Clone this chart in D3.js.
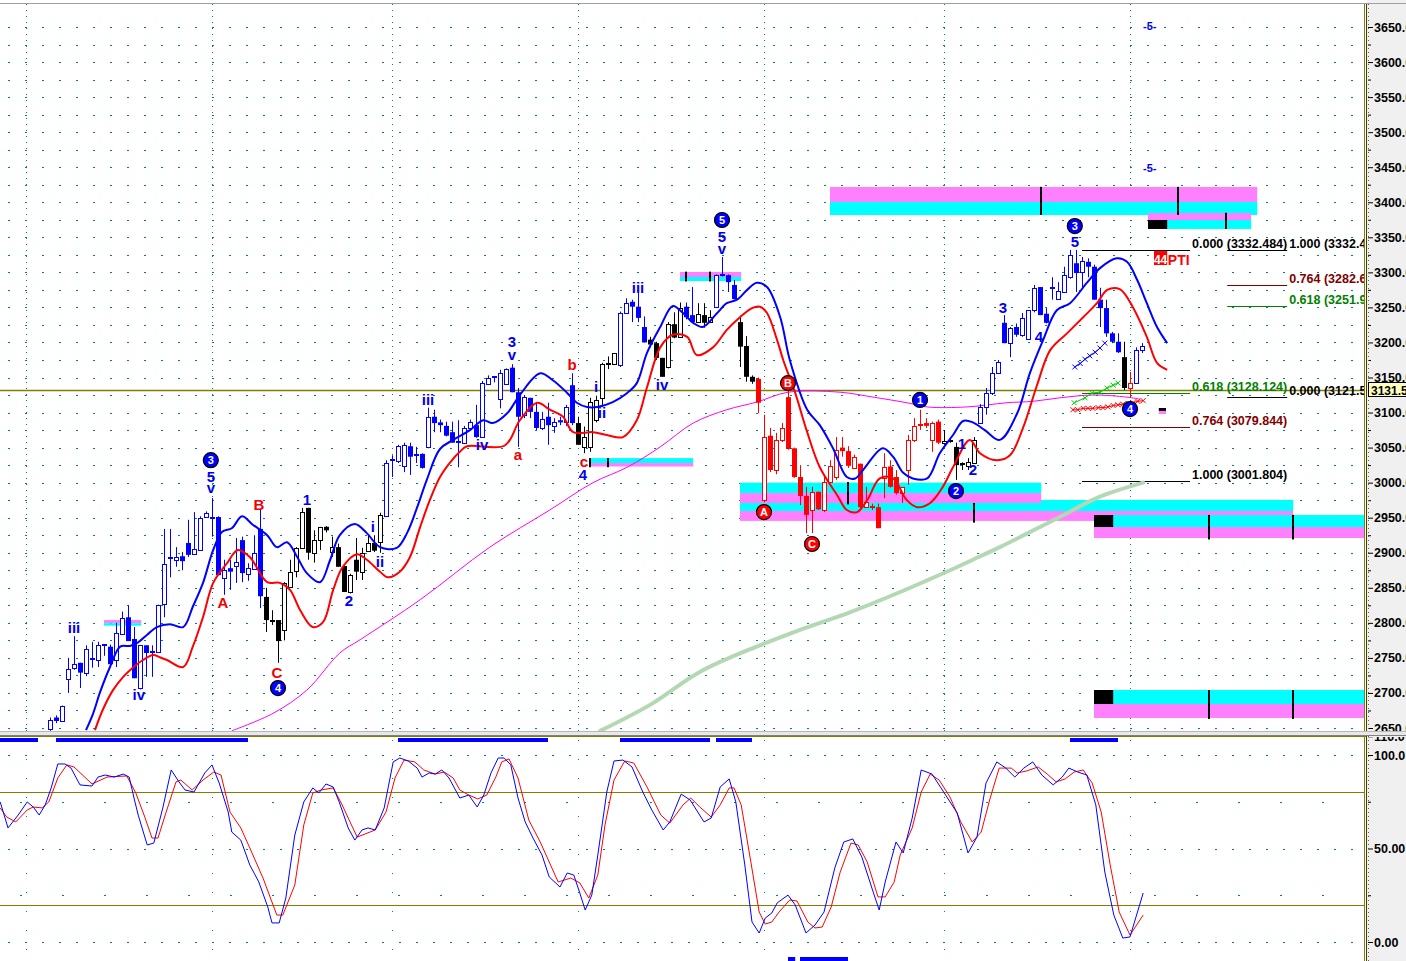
<!DOCTYPE html>
<html><head><meta charset="utf-8"><title>chart</title>
<script src="https://cdn.jsdelivr.net/npm/d3@7/dist/d3.min.js"></script>
<style>html,body{margin:0;padding:0;background:#fff;overflow:hidden}svg{display:block}</style>
</head><body>
<svg id="chart" width="1406" height="961"></svg>
<script>
// ---------------- DATA ----------------
const openP=[2648,2665,2659,2720,2735,2743,2729,2751,2746,2767,
2766,2746,2784,2808,2777,2707,2768,2758,2758,2827,
2893,2890,2895,2914,2898,2905,2951,2950,2951,2865,
2878,2882,2918,2870,2877,2934,2837,2804,2804,2790,
2851,2874,2907,2964,2900,2918,2937,2901,2908,2881,
2844,2890,2873,2903,2914,2915,2952,3031,3031,3024,
3052,3039,3041,3051,3094,3086,3081,3072,3058,3057,
3079,3082,3065,3142,3150,3119,3141,3164,3129,3097,
3121,3101,3078,3094,3081,3089,3086,3139,3085,3051,
3051,3089,3121,3169,3169,3168,3242,3258,3251,3222,
3204,3199,3178,3165,3226,3208,3251,3239,3229,3239,
3229,3251,3296,3296,3282,3229,3195,3151,3148,2975,
3067,3018,3061,3122,3049,3008,2981,2961,2987,2961,
3001,3008,3050,3045,3022,3027,2965,2965,2965,3007,
3023,3008,2985,3018,3061,3082,3085,3061,3087,3057,
3059,3051,3027,3025,3028,3085,3108,3128,3157,3228,
3199,3222,3211,3205,3246,3279,3241,3275,3262,3272,
3293,3313,3301,3315,3308,3261,3249,3213,3201,3179,
3135,3142,3189];
const highP=[2665,2668,2682,2750,2781,2743,2768,2773,2773,2769,
2769,2800,2816,2825,2794,2768,2768,2768,2826,2934,
2934,2908,2901,2947,2958,2952,2959,2978,2952,2890,
2890,2921,2923,2885,2925,2961,2850,2818,2804,2858,
2890,2908,2964,2964,2932,2937,2938,2923,2913,2881,
2870,2921,2907,2925,2925,2957,3032,3039,3054,3057,
3057,3051,3042,3107,3104,3090,3087,3087,3089,3081,
3090,3111,3145,3153,3152,3161,3163,3169,3135,3125,
3121,3115,3101,3114,3092,3094,3111,3156,3094,3080,
3121,3124,3171,3180,3185,3244,3263,3261,3272,3237,
3208,3201,3178,3229,3243,3257,3257,3279,3256,3256,
3246,3297,3322,3297,3289,3237,3209,3153,3150,3097,
3078,3071,3085,3135,3050,3025,2994,2994,2987,3008,
3032,3065,3065,3052,3040,3027,2994,2970,2970,3042,
3032,3018,2994,3068,3092,3104,3092,3087,3090,3075,
3062,3057,3029,3035,3065,3112,3135,3165,3175,3239,
3222,3227,3242,3246,3282,3279,3249,3293,3286,3308,
3332,3332,3322,3320,3311,3278,3261,3215,3213,3201,
3158,3193,3199];
const lowP=[2646,2657,2659,2700,2733,2707,2724,2736,2737,2753,
2737,2737,2784,2774,2721,2705,2723,2723,2757,2808,
2865,2880,2875,2894,2898,2903,2951,2923,2868,2840,
2847,2857,2858,2860,2877,2821,2787,2797,2743,2775,
2851,2865,2907,2890,2886,2904,2929,2894,2880,2844,
2842,2861,2861,2903,2901,2900,2952,3008,3028,3015,
3011,3028,3020,3049,3072,3072,3066,3057,3022,3055,
3077,3064,3064,3142,3143,3106,3140,3129,3051,3092,
3092,3075,3075,3054,3071,3082,3081,3082,3054,3042,
3044,3086,3108,3162,3168,3165,3242,3229,3229,3200,
3193,3175,3151,3163,3206,3207,3233,3228,3229,3221,
3228,3249,3294,3272,3261,3165,3144,3141,3099,2972,
3015,3012,3058,3047,3007,2968,2928,2928,2961,2958,
3000,3004,3037,3021,3020,2960,2964,2961,2935,2978,
2993,2983,2971,2997,3058,3075,3078,3044,3055,3054,
3057,3004,3018,3018,3027,3085,3097,3125,3155,3199,
3179,3208,3208,3204,3243,3239,3227,3261,3261,3271,
3291,3272,3278,3293,3261,3222,3208,3199,3185,3132,
3121,3142,3185];
const closeP=[2661,2660,2681,2734,2741,2729,2763,2749,2768,2768,
2741,2785,2807,2774,2721,2768,2757,2758,2825,2884,
2892,2894,2888,2897,2905,2950,2957,2950,2868,2876,
2873,2887,2871,2878,2900,2838,2804,2803,2774,2857,
2873,2907,2958,2900,2918,2937,2932,2908,2880,2844,
2868,2873,2900,2914,2903,2954,3028,3032,3052,3054,
3037,3039,3021,3094,3085,3082,3067,3057,3058,3078,
3087,3065,3142,3150,3151,3156,3162,3129,3094,3122,
3101,3078,3091,3082,3087,3086,3108,3085,3054,3065,
3115,3118,3169,3169,3185,3242,3256,3251,3235,3200,
3197,3178,3151,3226,3207,3249,3236,3229,3241,3228,
3236,3296,3296,3286,3262,3194,3151,3144,3114,3065,
3018,3061,3078,3048,3008,2981,2954,2986,2962,3001,
3024,3046,3045,3024,3037,2965,2972,2965,2935,3023,
2994,2985,2994,3061,3081,3082,3081,3085,3057,3060,
3060,3025,3026,3030,3061,3108,3128,3157,3172,3199,
3221,3211,3235,3246,3278,3239,3228,3277,3273,3296,
3325,3299,3316,3308,3261,3249,3213,3201,3186,3135,
3142,3189,3195];
// candle colour per wave segment: b=blue, k=black, r=red
const candleColorRuns=[["b",36],["k",20],["b",32],["k",7],["b",5],["k",6],["b",2],["k",3],["b",4],["k",3],["r",31],["k",6],["b",24],["k",1],["r",1],["b",2]];

// moving averages [candle index, price]
const maBlue=[[6,2647],[7.2,2671],[8.3,2700],[10,2737],[11.7,2766],[13.3,2767],[14.5,2771],[16.2,2783],[17.8,2794],[20,2798],[22.2,2794],[23.8,2823],[25.5,2857],[27.2,2904],[28.7,2930],[30.3,2935],[32,2952],[33.8,2940],[36.2,2925],[37.8,2908],[39.5,2915],[41.2,2894],[42.8,2871],[45,2858],[46.7,2890],[48.3,2925],[50.8,2941],[52.8,2928],[55,2908],[57.8,2907],[59.5,2928],[61.2,2965],[62.8,3004],[65,3048],[67.2,3061],[70,3075],[72.2,3089],[73.8,3085],[76.2,3099],[78.3,3125],[81.7,3156],[83.8,3146],[86.2,3128],[87.8,3114],[89.5,3108],[91.2,3108],[93.8,3115],[96.2,3128],[97.8,3142],[99.5,3185],[101.7,3222],[103.8,3252],[105.5,3242],[107.2,3228],[108.8,3222],[111.2,3242],[112.8,3256],[114.5,3261],[116.2,3275],[117.8,3285],[119.5,3279],[121.7,3236],[123.3,3175],[126.2,3104],[128.3,3082],[130.5,3049],[132.8,3008],[134.2,3006],[135.5,3018],[138.8,3049],[140.5,3037],[142.2,3014],[143.8,3006],[146.2,3006],[148.3,3042],[150.5,3068],[152.2,3088],[153.8,3086],[155.8,3075],[158.3,3061],[161.2,3099],[163.3,3156],[165.5,3203],[167.8,3246],[170,3256],[172.8,3285],[175,3306],[177.8,3320],[179.5,3315],[181.2,3289],[182.8,3256],[184.5,3222],[186.2,3199]];
const maRed=[[7.5,2647],[8.8,2676],[10.5,2704],[12.2,2723],[13.8,2736],[15.5,2747],[17.2,2754],[18.3,2751],[19.5,2747],[22.2,2737],[23.8,2766],[25.5,2808],[27.2,2857],[29.5,2885],[31.3,2904],[33.3,2894],[36.2,2858],[38.3,2857],[40,2847],[41.7,2818],[43.8,2794],[45.5,2801],[47.2,2847],[48.8,2880],[51.2,2898],[52.8,2890],[55,2873],[56.3,2865],[58.3,2873],[60,2894],[61.7,2937],[63.3,2975],[65,3008],[66.7,3029],[68.3,3044],[69.5,3052],[75.8,3053],[78.3,3089],[81.2,3114],[83.3,3104],[85.5,3094],[87.2,3072],[90.5,3072],[92.8,3068],[95.5,3065],[97.8,3089],[99.5,3136],[101.7,3193],[103.8,3211],[106.2,3208],[107.8,3182],[110.5,3193],[112.8,3218],[115,3236],[117,3249],[118.3,3251],[119.5,3242],[121.2,3203],[122.2,3175],[124.2,3128],[126.2,3072],[128.3,3022],[131.2,2982],[132.8,2961],[134.5,2958],[136.2,2975],[138.3,3006],[140.5,3006],[142.8,2975],[144.5,2965],[146.7,2971],[148.8,2994],[150.5,3022],[153.3,3061],[155,3042],[157.8,3032],[160,3039],[162.2,3079],[164.5,3139],[166.7,3189],[169.5,3213],[172.2,3236],[174.5,3256],[176.2,3275],[178.3,3276],[180.5,3250],[182.8,3208],[184.5,3171],[186.2,3161]];
const maMagenta=[[30.3,2646],[37.2,2671],[42.8,2704],[48.3,2757],[51.7,2776],[61.7,2833],[73.3,2908],[83.3,2961],[90.5,3000],[96.2,3022],[101.7,3051],[107.2,3085],[112.8,3104],[117.8,3115],[123,3129],[131.7,3129],[137.2,3122],[142.8,3114],[146.2,3108],[152.8,3108],[159.5,3114],[163.8,3116],[168.3,3121],[173.8,3125],[179.5,3122],[181.7,3119]];
const maGreen=[[91.7,2646],[100,2683],[108.3,2730],[118.3,2768],[125,2790],[133.3,2815],[141.7,2844],[150,2875],[153.8,2890],[158.3,2908],[168.3,2951],[175,2980],[182.2,3000]];

// stochastic [candle index, value]
const stochK=[[-8.3,74.9],[-7,61],[-5.3,67.9],[-3.8,74.9],[-2.8,72.2],[-1.8,67.9],[-0.8,73.3],[0.2,82.4],[1.3,95.2],[2.5,95.2],[3.5,93],[5,84],[7,83.4],[8,88.2],[9.2,89.3],[10.7,88.2],[12.2,89.8],[13.2,88.2],[14,77],[14.7,67.9],[16.2,51.9],[17.3,52.9],[18.8,71.7],[20.2,92],[21.5,85.6],[22.5,81.3],[24,80.2],[25.8,90.4],[27,94.7],[28.2,85],[29.7,69.5],[30.3,58.8],[31.8,54.5],[33.3,41.2],[34.8,32.1],[36.3,18.7],[37,10.2],[38.2,10.2],[39.3,23.5],[40.8,57.2],[42.3,74.9],[43.8,82.4],[44.8,79.7],[46,84.5],[47.2,82.9],[48.2,74.9],[49.7,61],[50.8,54.5],[52,59.9],[53,61],[54.2,59.9],[55.7,71.7],[57.2,96.3],[58.3,98.4],[59.7,96.8],[61.2,93],[62,88.2],[63.2,90.4],[64.2,89.8],[65.3,92],[66.5,87.7],[68.3,77],[69.8,78.6],[71.2,72.2],[72.3,78.6],[73.5,90.4],[74.7,98.4],[75.7,98.4],[76.8,94.7],[78,77],[79.2,64.2],[80.5,55.6],[82,46.5],[83.2,34.8],[85,29.4],[86.2,36.9],[87.3,35.8],[88.3,26.2],[89.2,17.1],[90.3,25.1],[91.3,46.5],[92.8,80.2],[94,96.8],[95.5,97.3],[97,93.6],[98.8,80.2],[100.3,70.6],[102.2,59.9],[103.3,64.2],[105.2,79.1],[106.7,75.9],[109,64.2],[110.2,66.3],[111.7,82.9],[113.2,87.2],[114.3,74.9],[115.8,41.2],[117,10.7],[118.2,4.8],[119.2,12.8],[120.3,15.5],[121.2,20.9],[123,25.1],[124.2,19.8],[126,4.8],[127.5,9.1],[129,16],[130.8,39.6],[132.3,53.5],[133.8,55.1],[135.3,45.5],[137.2,26.7],[138.2,17.1],[139.2,32.1],[141,53.5],[142.2,47.6],[143.7,66.3],[145.2,92],[147,89.8],[148.5,82.4],[151.2,69],[153,47.6],[154.5,56.1],[156,85],[157.8,96.3],[159.3,93],[160.8,88.2],[162.3,93],[163.8,96.3],[165.3,89.3],[167.2,84],[168.7,88.2],[169.8,93],[171.3,90.9],[172.8,89.3],[174.3,73.3],[175.8,37.4],[177.3,14.4],[178.8,2.1],[180,2.7],[182.2,26.2]];
const stochD=[[-8.3,71.7],[-7.2,66.8],[-5.7,64.2],[-3.8,70.6],[-2.8,72.2],[-1.3,71.7],[-0.2,74.9],[1.3,87.7],[2.8,94.7],[4,93.6],[7,84.5],[9.5,88.2],[12.8,88.8],[14.3,79.7],[15.8,66.8],[17,55.6],[18,55.6],[19.2,67.9],[21,85.6],[21.8,86.6],[23.7,81.3],[25.5,86.6],[27.3,90.9],[28.5,89.3],[30,69.5],[31.8,61],[33.3,50.3],[35.5,34.2],[37.8,14.4],[38.8,14.4],[40.8,30.5],[42.3,62.6],[43.8,79.7],[45.2,81.3],[47.2,82.4],[48.7,73.3],[49.7,66.3],[51.2,56.1],[54.2,59.9],[56,69.5],[57.5,87.7],[59,97.3],[60.8,96.3],[62.3,92],[64.2,89.8],[65.7,90.9],[67.2,87.7],[68.3,81.3],[69.8,78.6],[71.3,76.5],[72.8,78.6],[74.3,88.2],[75.3,96.3],[76.5,97.9],[78,87.7],[79.8,65.2],[81.7,53.5],[84.7,32.1],[86.8,34.2],[88.3,31.6],[89.8,23.5],[91.3,35.8],[92.5,62.6],[94,86.6],[95.8,96.8],[97.3,95.7],[99.5,82.9],[101.8,67.9],[103.3,63.6],[105.5,73.3],[106.8,77],[108.3,72.2],[110.2,66.8],[111.7,73.3],[113.2,82.4],[114,82.4],[115.2,73.3],[116.7,44.9],[118.2,16],[119.2,9.6],[120.3,10.7],[121.5,16],[123.3,22.5],[124.5,21.9],[126.3,10.7],[127.5,7.5],[128.7,8],[130.2,18.7],[131.7,37.4],[133.5,52.9],[134.7,51.9],[136.2,42.8],[138,24.1],[139.2,24.1],[140.7,32.1],[141.7,46.5],[143.7,61],[145.2,80.2],[146.7,89.8],[148.2,86.6],[150,77.5],[151.8,64.2],[153.7,53.5],[155.2,58.8],[156.7,77],[158.2,93],[160.2,93],[161.2,90.4],[162.7,91.4],[164.7,93.6],[166.2,89.8],[167.7,85.6],[169.2,87.2],[170.7,90.9],[172.2,92],[173.7,85],[175.2,69.5],[176.7,41.2],[178.2,16],[180,3.7],[182.2,14.4]];

// signal bars [from index, to index]
const signalTop=[[-8.4,-2],[1,33],[58,83],[95,110],[111,117],[170,178]];
const signalBottom=[[123,124.2],[125,133]];

// price zones [x0 idx, x1 idx, top, middle, bottom, band colours]
const zones=[[9,15.2,2804,2799.5,2796,"pc"],[90,107.2,3035,3028,3023,"cp"],[105,115.2,3300.5,3293.4,3287.7,"pc"],[130,201.2,3421.8,3400.4,3381.8,"pc"],[183,200.2,3384.6,3374.7,3361.9,"pc"],[115,207.2,2975.3,2959.6,2945.4,"cp"],[115,165.2,3000,2985.2,2971,"cp"],[174,219,2953.8,2936.7,2921,"cp"],[174,219,2704.2,2684.2,2664.3,"cp"],[184.8,186,3106.5,3102.3,3098,"kp"]];
const zoneBlocks=[[183,186.2,3374.7,3361.9],[174,177.2,2953.8,2936.7],[174,177.2,2704.2,2684.2]];
const zoneMarks=[[90,3035,3022],[93,3035,3022],[106,3301,3287],[110,3301,3287],[165.2,3422,3382],[188,3422,3382],[196,3385,3362],[133,3001,2969],[154,2971,2943],[193.2,2954,2919],[207.2,2954,2919],[193.2,2704,2663],[207.2,2704,2663]];

// fibonacci levels [x0 idx, x1 idx, price, label, colour]
const fibLevels=[[172,190,3332.484,"0.000 (3332.484)","k"],[172,190,3128.124,"0.618 (3128.124)","g"],[172,190,3079.844,"0.764 (3079.844)","m"],[172,190,3001.804,"1.000 (3001.804)","k"],
[196.2,206.2,3332.4,"1.000 (3332.4","k"],[196.2,206.2,3282.6,"0.764 (3282.6","m"],[196.2,206.2,3251.9,"0.618 (3251.9","g"],[196.2,206.2,3121.5,"0.000 (3121.5","k"]];

// x-marker chains
const crossBlue=[[170.8,3165],[171.7,3170],[172.5,3176],[173.3,3181],[174.2,3186],[175,3192],[175.8,3199]];
const crossGreen=[[170.7,3114],[172.5,3121],[173.7,3128],[175,3129],[176.2,3135],[177.2,3139],[178,3142]];
const crossRed=[[170.5,3104],[171.3,3104],[172.2,3106],[173,3106],[173.8,3106],[174.7,3107],[175.5,3107],[176.3,3108],[177.2,3110],[178,3111],[178.8,3112],[179.7,3113],[180.5,3114],[181.3,3116],[182.2,3117]];

// wave labels [text, idx, baseline price, colour]
const waveLabels=[["5",26.8,3001,"b"],["v",26.8,2985,"b"],["iii",4,2785.5,"b"],["iv",14.8,2690,"b"],["A",28.8,2821,"r"],["B",34.8,2961,"r"],["C",37.8,2721,"r"],["1",42.8,2968,"b"],["2",49.8,2824,"b"],["i",53.8,2929.6,"b"],["ii",55,2879.7,"b"],["iii",63,3110.8,"b"],["iv",72,3046.6,"b"],["3",77,3193.5,"b"],["v",77,3175,"b"],["a",78,3032.3,"r"],["b",87,3160.7,"r"],["c",89,3022.3,"r"],["4",88.8,3003.8,"b"],["i",91,3129.3,"b"],["ii",92,3092,"b"],["iii",98,3270.5,"b"],["iv",102,3132.2,"b"],["5",112,3343.3,"b"],["v",112,3326,"b"],["1",152,3048,"b"],["2",153.8,3011,"b"],["3",158.8,3242,"b"],["4",164.8,3200.6,"b"],["5",170.8,3336,"b"]];
const waveCircles=[["3",26.8,3032,"b"],["4",38,2707,"b"],["5",112,3374.7,"b"],["A",119,2958,"r"],["B",123,3142,"r"],["C",127,2912.5,"r"],["1",145,3118,"b"],["2",151,2988,"b"],["3",170.8,3366,"b"],["4",180,3105,"b"]];
const gridIdx=[-4,27,57,88,119,149,180];
const priceTicks=d3.range(2650,3651,50);
const lastPrice=3131.5;

// ---------------- DRAWING ----------------
const FONT='"Liberation Sans", Arial, Helvetica, sans-serif';
const COL={b:"#0000ff",k:"#000000",r:"#ff0000"};
const LCOL={b:"#0000f0",r:"#f00000"};
const BC={p:"#ff80ff",c:"#00ffff",k:"#000000"};
const FC={k:"#000000",g:"#008000",m:"#800000"};
const candleColor=[];
candleColorRuns.forEach(([c,n])=>{for(let k=0;k<n;k++)candleColor.push(c);});

const x=d3.scaleLinear().domain([0,182]).range([50,1142]);
const y=d3.scaleLinear().domain([2650,3650]).range([728,27]);
const ys=d3.scaleLinear().domain([0,100]).range([942,755]);
const px=v=>Math.round(v)+0.5;

const svg=d3.select("#chart");
svg.append("rect").attr("width",1406).attr("height",961).attr("fill","#fff");
svg.append("rect").attr("x",1367).attr("y",0).attr("width",39).attr("height",961).attr("fill","#f0f0f0");
const defs=svg.append("defs");
function clip(id,x0,y0,w,h){defs.append("clipPath").attr("id",id).append("rect").attr("x",x0).attr("y",y0).attr("width",w).attr("height",h);}
clip("cm",0,4,1364,727);clip("cl",0,737,1364,224);clip("ca",1367,4,39,727);clip("cla",1367,737,39,224);
const gm=svg.append("g").attr("clip-path","url(#cm)");
const gl=svg.append("g").attr("clip-path","url(#cl)");

// main grid (teal dots)
const gg=gm.append("g").attr("stroke","#008080").attr("shape-rendering","crispEdges");
d3.range(2650,3651,25).forEach(v=>gg.append("line").attr("x1",8).attr("x2",1364).attr("y1",px(y(v))).attr("y2",px(y(v))).attr("stroke-width",1.4).attr("stroke-dasharray","2,15"));
gridIdx.forEach(i=>gg.append("line").attr("x1",px(x(i))).attr("x2",px(x(i))).attr("y1",4).attr("y2",731).attr("stroke-width",1).attr("stroke-dasharray","1,5"));

// zones
zones.forEach(([i0,i1,t,m,b,ord])=>{
  gm.append("rect").attr("x",x(i0)).attr("width",x(i1)-x(i0)).attr("y",y(t)).attr("height",y(m)-y(t)).attr("fill",BC[ord[0]]);
  gm.append("rect").attr("x",x(i0)).attr("width",x(i1)-x(i0)).attr("y",y(m)).attr("height",y(b)-y(m)).attr("fill",BC[ord[1]]);
});
zoneBlocks.forEach(([i0,i1,t,b])=>gm.append("rect").attr("x",x(i0)).attr("width",x(i1)-x(i0)).attr("y",y(t)).attr("height",y(b)-y(t)).attr("fill","#000"));
zoneMarks.forEach(([i,t,b])=>gm.append("rect").attr("x",Math.round(x(i))-1).attr("width",2).attr("y",y(t)).attr("height",y(b)-y(t)).attr("fill","#000"));

// last price line
gm.append("line").attr("x1",0).attr("x2",1364).attr("y1",px(y(lastPrice))).attr("y2",px(y(lastPrice))).attr("stroke","#808000").attr("stroke-width",1.3);

// fib levels
fibLevels.forEach(([i0,i1,p,label,c])=>{
  const yy=px(y(p));
  gm.append("line").attr("x1",x(i0)).attr("x2",x(i1)).attr("y1",yy).attr("y2",yy).attr("stroke",FC[c]).attr("stroke-width",1);
  gm.append("text").attr("x",x(i1)+2).attr("y",yy-3).attr("font-family",FONT).attr("font-weight","bold").attr("font-size",12.5).attr("fill",FC[c]).text(label);
});

// green & magenta MAs under candles
const lineP=d3.line().x(d=>x(d[0])).y(d=>y(d[1])).curve(d3.curveCatmullRom.alpha(0.5));
gm.append("path").datum(maGreen).attr("d",lineP).attr("fill","none").attr("stroke","#b4d8b4").attr("stroke-width",4).attr("stroke-linecap","round");
gm.append("path").datum(maMagenta).attr("d",lineP).attr("fill","none").attr("stroke","#ff00ff").attr("stroke-width",1);

// candles
const gc=gm.append("g");
openP.forEach((o,i)=>{
  const h=highP[i],l=lowP[i],c=closeP[i],col=COL[candleColor[i]];
  const cx=Math.round(x(i));
  gc.append("line").attr("x1",cx+0.5).attr("x2",cx+0.5).attr("y1",y(h)).attr("y2",y(l)).attr("stroke",col).attr("stroke-width",1);
  const yt=y(Math.max(o,c)),yb=y(Math.min(o,c));
  if(yb-yt<2){
    gc.append("line").attr("x1",cx-2).attr("x2",cx+3).attr("y1",Math.round(y(c))).attr("y2",Math.round(y(c))).attr("stroke",col).attr("stroke-width",2);
  }else if(c>o){
    gc.append("rect").attr("x",cx-1.5).attr("y",Math.round(yt)+0.5).attr("width",4).attr("height",Math.round(yb-yt)).attr("fill","#fff").attr("stroke",col).attr("stroke-width",1);
  }else{
    gc.append("rect").attr("x",cx-2).attr("y",yt).attr("width",5).attr("height",yb-yt).attr("fill",col);
  }
});

// blue/red MAs
gm.append("path").datum(maRed).attr("d",lineP).attr("fill","none").attr("stroke","#ff0000").attr("stroke-width",2);
gm.append("path").datum(maBlue).attr("d",lineP).attr("fill","none").attr("stroke","#0000ff").attr("stroke-width",2);

// cross chains
function crosses(data,col){
  gm.append("path").datum(data).attr("d",d3.line().x(d=>x(d[0])).y(d=>y(d[1]))).attr("fill","none").attr("stroke",col).attr("stroke-width",1);
  data.forEach(d=>{const cx=x(d[0]),cy=y(d[1]);gm.append("path").attr("d",`M${cx-2.5},${cy-2.5}L${cx+2.5},${cy+2.5}M${cx-2.5},${cy+2.5}L${cx+2.5},${cy-2.5}`).attr("stroke",col).attr("stroke-width",1).attr("fill","none");});
}
crosses(crossRed,"#ff0000");crosses(crossGreen,"#00d000");crosses(crossBlue,"#0000ff");

// wave labels
waveLabels.forEach(([t,i,p,c])=>gm.append("text").attr("x",x(i)).attr("y",y(p)).attr("text-anchor","middle").attr("font-family",FONT).attr("font-weight","bold").attr("font-size",15).attr("fill",LCOL[c]).text(t));
waveCircles.forEach(([t,i,p,c])=>{
  const g=gm.append("g").attr("transform",`translate(${x(i)},${y(p)})`);
  g.append("circle").attr("r",7.5).attr("fill",c==="r"?"#ff0000":"#0000ff").attr("stroke","#000").attr("stroke-width",1.2);
  g.append("text").attr("text-anchor","middle").attr("dy","0.36em").attr("fill","#fff").attr("font-size",11).attr("font-weight","bold").attr("font-family",FONT).text(t);
});

// PTI tag and projection marks
gm.append("rect").attr("x",x(184)).attr("y",y(3330.4)).attr("width",x(186.2)-x(184)).attr("height",y(3310.5)-y(3330.4)).attr("fill","#ff0000");
gm.append("text").attr("x",(x(184)+x(186.2))/2).attr("y",y(3312.5)).attr("text-anchor","middle").attr("fill","#fff").attr("font-family",FONT).attr("font-weight","bold").attr("font-size",12).text("44");
gm.append("text").attr("x",x(186.3)).attr("y",y(3311)).attr("fill","#ff0000").attr("font-family",FONT).attr("font-weight","bold").attr("font-size",14).text("PTI");
[3651.4,3449].forEach(p=>gm.append("text").attr("x",x(183.3)).attr("y",y(p)).attr("dy","0.35em").attr("text-anchor","middle").attr("fill","#0000ff").attr("font-family",FONT).attr("font-weight","bold").attr("font-size",11).text("-5-"));

// ---------------- LOWER PANEL ----------------
const lg=gl.append("g").attr("stroke","#008080").attr("shape-rendering","crispEdges");
[0,50,100].forEach(v=>lg.append("line").attr("x1",8).attr("x2",1364).attr("y1",px(ys(v))).attr("y2",px(ys(v))).attr("stroke-width",1.4).attr("stroke-dasharray","2,15"));
[25,75].forEach(v=>lg.append("line").attr("x1",20).attr("x2",1364).attr("y1",px(ys(v))).attr("y2",px(ys(v))).attr("stroke-width",1.4).attr("stroke-dasharray","2,40"));
gridIdx.forEach(i=>lg.append("line").attr("x1",px(x(i))).attr("x2",px(x(i))).attr("y1",740).attr("y2",961).attr("stroke-width",1).attr("stroke-dasharray","1,18"));
[20,80].forEach(v=>gl.append("line").attr("x1",0).attr("x2",1364).attr("y1",px(ys(v))).attr("y2",px(ys(v))).attr("stroke","#808000").attr("stroke-width",1));
const lineS=d3.line().x(d=>x(d[0])).y(d=>ys(d[1]));
gl.append("path").datum(stochD).attr("d",lineS).attr("fill","none").attr("stroke","#ff0000").attr("stroke-width",1);
gl.append("path").datum(stochK).attr("d",lineS).attr("fill","none").attr("stroke","#0000ff").attr("stroke-width",1);
signalTop.forEach(([a,b])=>gl.append("rect").attr("x",x(a)).attr("width",x(b)-x(a)).attr("y",738).attr("height",4).attr("fill","#0000ff"));
signalBottom.forEach(([a,b])=>gl.append("rect").attr("x",x(a)).attr("width",x(b)-x(a)).attr("y",957).attr("height",4).attr("fill","#0000ff"));

// ---------------- AXES ----------------
const gA=svg.append("g").attr("clip-path","url(#ca)");
const axG=gA.append("g").attr("transform","translate(1368,0)").call(d3.axisRight(y).tickValues(priceTicks).tickSize(5).tickPadding(1).tickFormat(d=>d+".00"));
axG.select(".domain").remove();
axG.attr("font-family",FONT).attr("font-size",12.5).attr("font-weight","bold");
axG.selectAll("line").attr("stroke","#000");axG.selectAll("text").attr("fill","#000");
const axM=gA.append("g").attr("transform","translate(1368,0)").call(d3.axisRight(y).tickValues(d3.range(2675,3650,50)).tickSize(3).tickFormat(""));
axM.select(".domain").remove();axM.selectAll("line").attr("stroke","#000");

const gLA=svg.append("g").attr("clip-path","url(#cla)");
const lab={0:"0.00",50:"50.00",100:"100.0",110:"110.0"};
const axL=gLA.append("g").attr("transform","translate(1368,0)").call(d3.axisRight(ys).tickValues([0,50,100,110]).tickSize(5).tickPadding(1).tickFormat(d=>lab[d]));
axL.select(".domain").remove();
axL.attr("font-family",FONT).attr("font-size",12.5).attr("font-weight","bold");
axL.selectAll("line").attr("stroke","#000");axL.selectAll("text").attr("fill","#000");
const axLM=gLA.append("g").attr("transform","translate(1368,0)").call(d3.axisRight(ys).tickValues([25,75]).tickSize(3).tickFormat(""));
axLM.select(".domain").remove();axLM.selectAll("line").attr("stroke","#000");

// frame lines
svg.append("line").attr("x1",1364.5).attr("x2",1364.5).attr("y1",4).attr("y2",961).attr("stroke","#808000");
svg.append("line").attr("x1",1366.5).attr("x2",1366.5).attr("y1",4).attr("y2",961).attr("stroke","#404000");
svg.append("line").attr("x1",1368.5).attr("x2",1368.5).attr("y1",4).attr("y2",961).attr("stroke","#606060").attr("stroke-dasharray","1,3");
svg.append("line").attr("x1",0).attr("x2",1406).attr("y1",3.5).attr("y2",3.5).attr("stroke","#a0a0a0");
svg.append("rect").attr("x",0).attr("y",731).attr("width",1406).attr("height",5).attr("fill","#e8e8e8");
svg.append("line").attr("x1",0).attr("x2",1406).attr("y1",731.5).attr("y2",731.5).attr("stroke","#b8b8b8");
svg.append("line").attr("x1",0).attr("x2",1406).attr("y1",735.5).attr("y2",735.5).attr("stroke","#808080");
svg.append("line").attr("x1",0).attr("x2",1366).attr("y1",736.5).attr("y2",736.5).attr("stroke","#808000");

// last price tag
svg.append("rect").attr("x",1368.5).attr("y",Math.round(y(lastPrice))-7.5).attr("width",40).attr("height",14).attr("fill","#ffffc0").attr("stroke","#000");
svg.append("text").attr("x",1371).attr("y",Math.round(y(lastPrice))+4.5).attr("font-family",FONT).attr("font-weight","bold").attr("font-size",12).attr("fill","#000").text(lastPrice.toFixed(1));
</script></body></html>
